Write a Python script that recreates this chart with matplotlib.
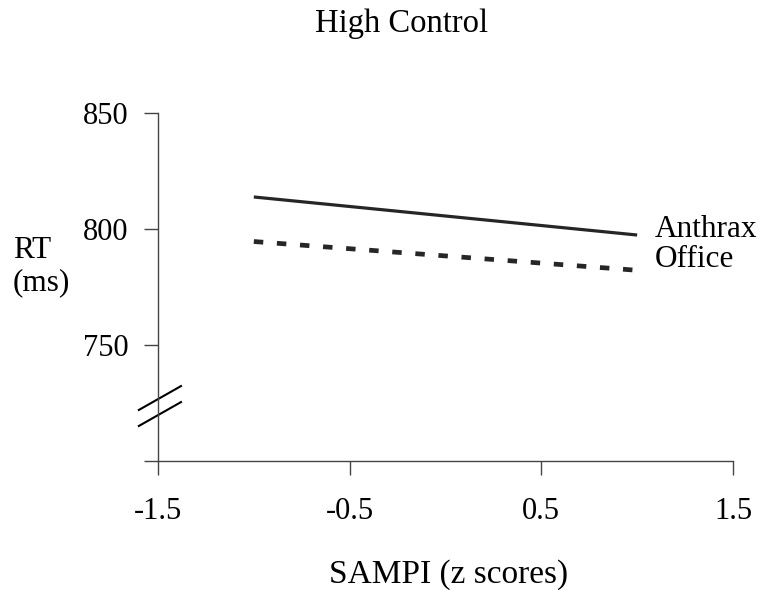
import matplotlib
matplotlib.use("Agg")
import matplotlib.pyplot as plt

# data
sampi = [-1, 1]
anthrax_rt = [813.8, 797.4]
office_rt = [794.6, 782.2]
x_ticks = [-1.5, -0.5, 0.5, 1.5]
x_tick_labels = ["-1.5", "-0.5", "0.5", "1.5"]
y_ticks = [700, 750, 800, 850]
y_tick_labels = ["", "750", "800", "850"]

plt.rcParams['font.family'] = ['Liberation Serif', 'DejaVu Serif']

fig = plt.figure(figsize=(7.64, 5.90), dpi=100)
ax = fig.add_axes([0.2068, 0.2186, 0.7526, 0.5899])

ax.plot(sampi, anthrax_rt, color='#262626', lw=2.3, solid_capstyle='butt')
ax.plot(sampi, office_rt, color='#262626', lw=3.4,
        linestyle=(0, (2.0, 2.9)), dash_capstyle='butt')

# line labels placed at the right end of each line
ax.text(1.093, 796.6, "Anthrax", fontsize=22.5, va='baseline', ha='left')
ax.text(1.093, 783.6, "Office", fontsize=22.5, va='baseline', ha='left')

ax.set_xlim(-1.5, 1.5)
ax.set_ylim(700, 850)
ax.set_xticks(x_ticks)
ax.set_xticklabels(x_tick_labels)
ax.set_yticks(y_ticks)
ax.set_yticklabels(y_tick_labels)
ax.tick_params(direction='out', length=10, width=1, color='#444444',
               labelsize=22)
ax.tick_params(axis='x', pad=16)
ax.tick_params(axis='y', pad=11.5)

for s in ['top', 'right']:
    ax.spines[s].set_visible(False)
for s in ['left', 'bottom']:
    ax.spines[s].set_color('#444444')
    ax.spines[s].set_linewidth(1)

# axis break marks
ax.plot([-1.6, -1.38], [722, 732.3], color='black', lw=1.5, clip_on=False)
ax.plot([-1.6, -1.38], [715.1, 725.4], color='black', lw=1.5, clip_on=False)

ax.set_xlabel("SAMPI (z scores)", fontsize=24, va='baseline')
ax.xaxis.set_label_coords(0.506, -0.349)

fig.text(0.017, 0.548, "RT\n(ms)", fontsize=22.5, ha='left', va='center',
         linespacing=1.15)
fig.text(0.526, 0.9458, "High Control", fontsize=23.5, ha='center',
         va='baseline')

fig.savefig("out.png", dpi=100)
